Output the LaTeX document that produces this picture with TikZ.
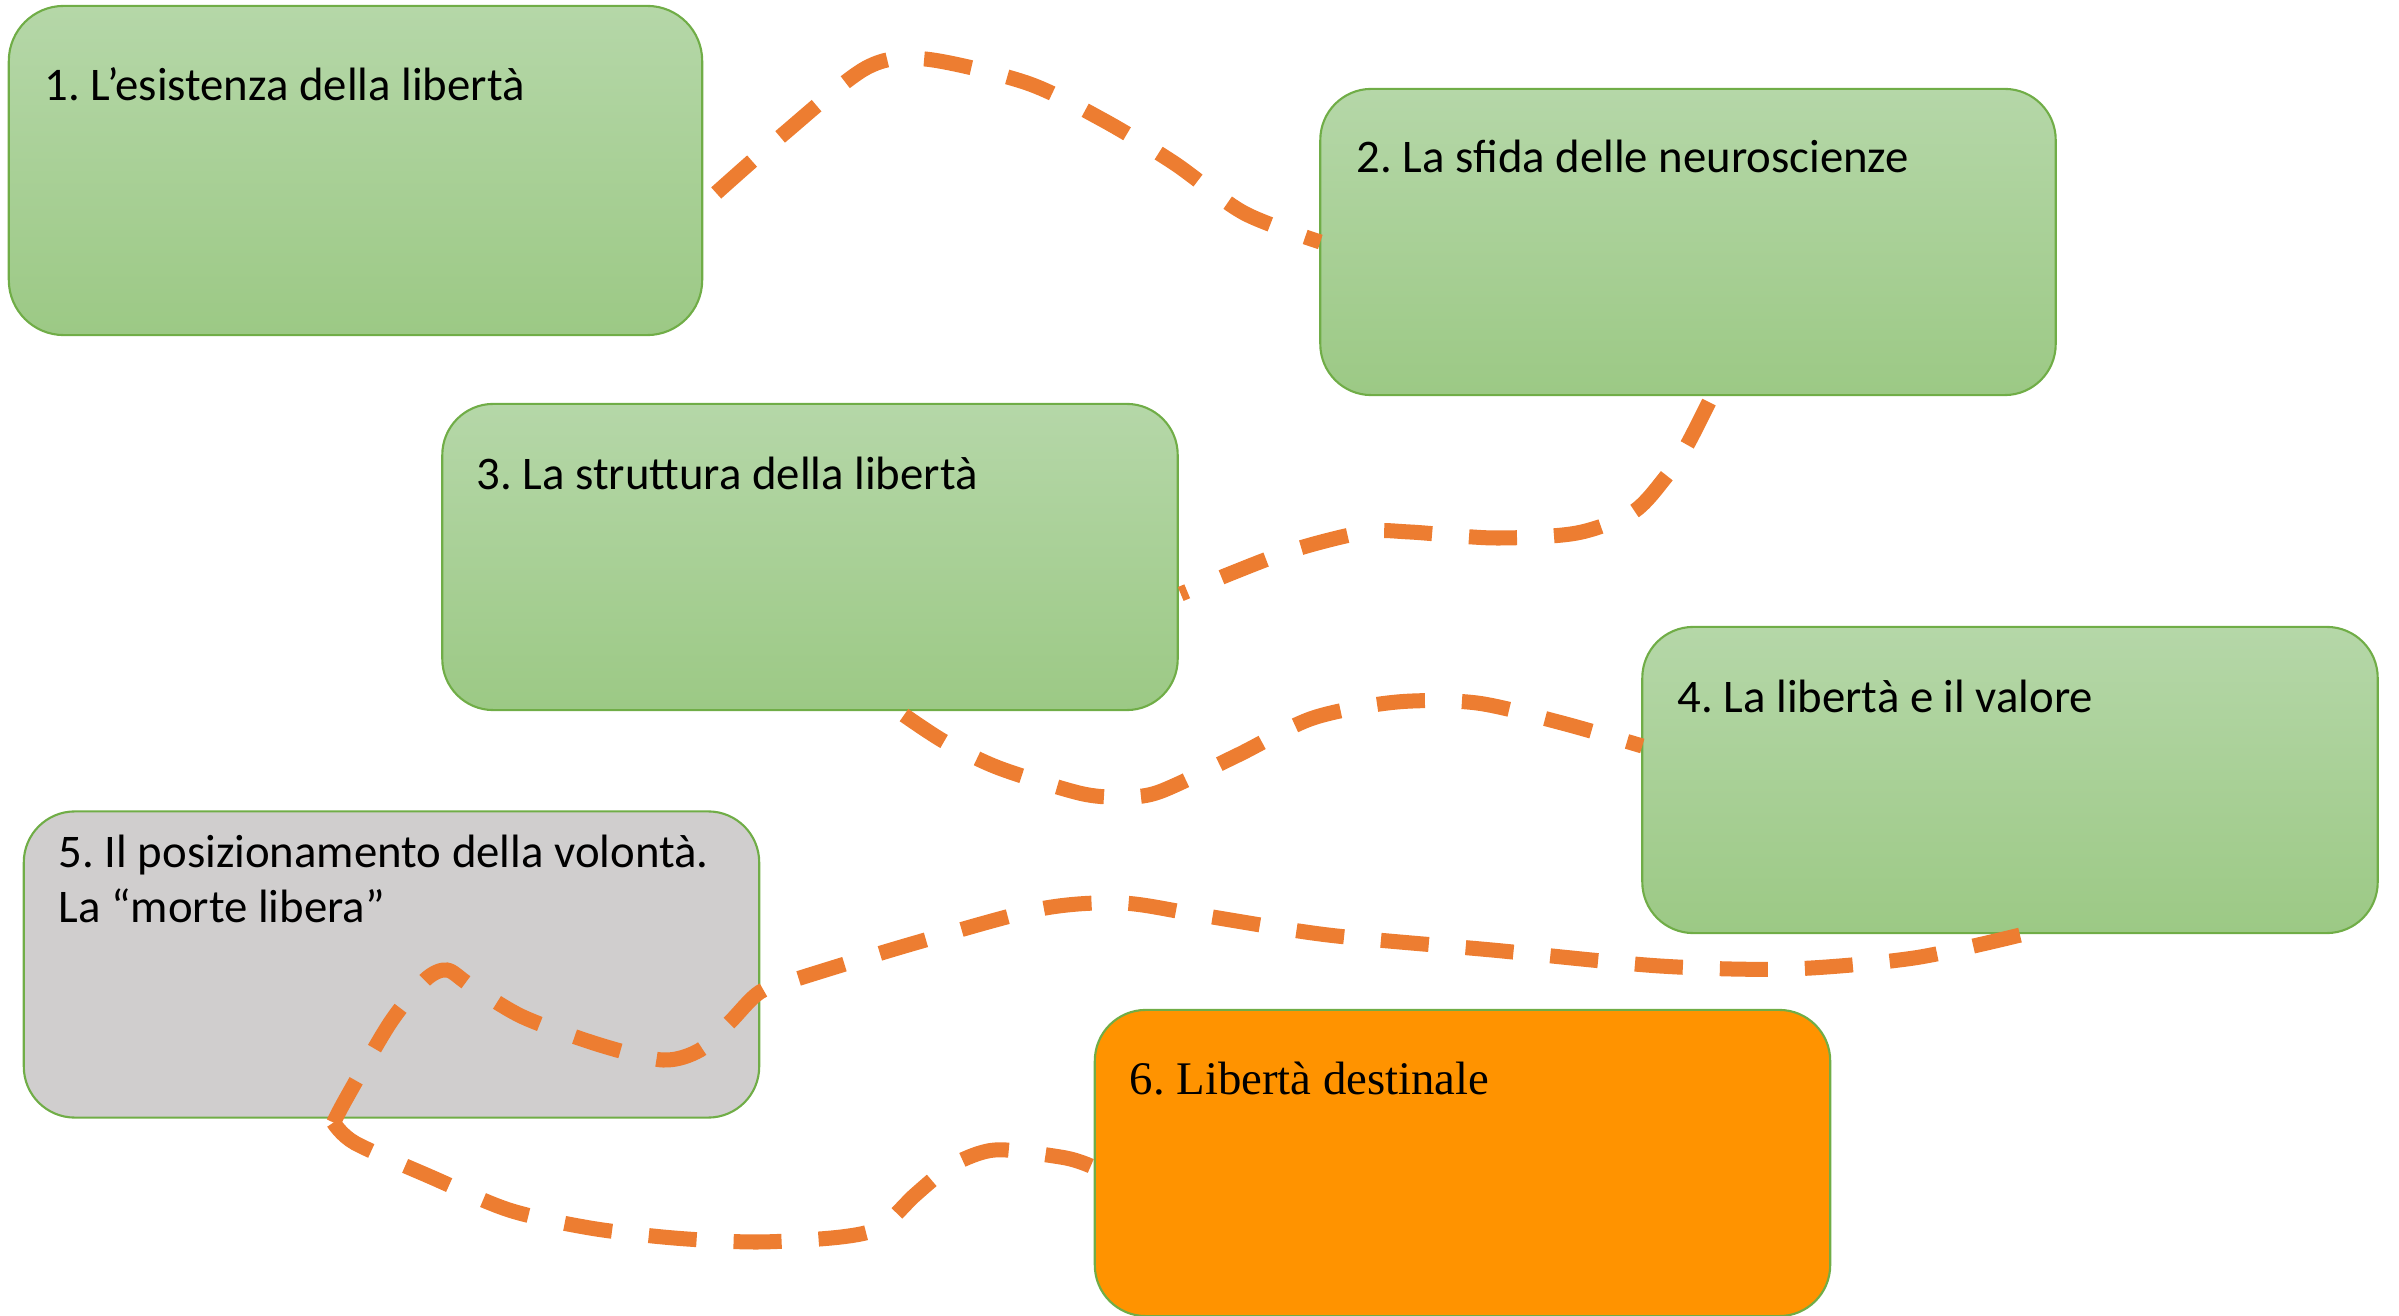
\documentclass[tikz,border=0pt]{standalone}
\usepackage{fontspec}
\setmainfont{Carlito}
\newfontfamily\timesf{Liberation Serif}
\usetikzlibrary{calc}
\definecolor{gtop}{HTML}{B5D7A8}
\definecolor{gbot}{HTML}{9CC985}
\definecolor{gline}{HTML}{70AD47}
\definecolor{graybox}{HTML}{D0CECE}
\definecolor{orangebox}{HTML}{FF9300}
\definecolor{conn}{HTML}{ED7D31}
\frenchspacing
\begin{document}
\begin{tikzpicture}[x=0.01cm,y=-0.01cm,
  box/.style={rounded corners=0.51cm, draw=gline, line width=0.6pt, outer sep=0pt, inner sep=0pt,
              minimum width=7.35cm, minimum height=3.06cm},
  greenbox/.style={box, top color=gtop, bottom color=gbot},
  greybox/.style={box, fill=graybox},
  orbox/.style={box, fill=orangebox},
  lbl/.style={anchor=base west, inner sep=0pt, font=\fontsize{13.3pt}{16pt}\selectfont},
  link/.style={draw=conn, line width=0.15cm, dash pattern=on 0.48cm off 0.37cm}]
\useasboundingbox (0,0) rectangle (2399,1316);
% boxes
\node[greenbox, minimum width=6.93cm, minimum height=3.29cm, rounded corners=0.55cm] (b1) at (355.5,170.5) {};
\node[greenbox] (b2) at (1688,242) {};
\node[greenbox] (b3) at (810,557) {};
\node[greenbox] (b4) at (2010,780) {};
\node[greybox] (b5) at (391.5,964.5) {};
\node[orbox] (b6) at (1462.5,1163) {};
% labels
\node[lbl] (t1) at (44,101) {1. L’esistenza della libertà};
\node[lbl] (t2) at (1356,173) {2. La sfida delle neuroscienze};
\node[lbl] (t3) at (476,490) {3. La struttura della libertà};
\node[lbl] (t4) at (1677,713) {4. La libertà e il valore};
\node[lbl] (t5a) at (58,868) {5. Il posizionamento della volontà.};
\node[lbl] (t5b) at (58,923) {La “morte libera”};
\node[lbl, font=\fontsize{13.3pt}{16pt}\selectfont\timesf] (t6) at (1129,1094) {6. Libertà destinale};
% connectors
\coordinate (j) at ($(b5.south)+(-58,5)$);
\draw[link] plot[smooth] coordinates {($(b1.east)+(14,22.5)$) (780,137) (866,68) (925,59) (1027,83) (1103,120) (1174,163) (1244,213) (b2.west)};
\draw[link] plot[smooth] coordinates {($(b2.south)+(21,7)$) (1686,447) (1665,478) (1633,512) (1577,533) (1495,538) (1410,532) (1365,532) (1284,553) ($(b3.east)+(3,37)$)};
\draw[link] plot[smooth] coordinates {($(b3.south)+(94,5)$) (945,742) (999,768) (1079,793) (1119,797) (1159,792) (1238,755) (1313,718) (1397,702) (1477,703) (1562,723) ($(b4.west)+(0,-34)$)};
\draw[link] plot[smooth] coordinates {($(b4.south)+(10,2)$) (1914,958) (1790,969) (1660,966) (1492,950) (1328,935) (1200,915) (1122,903) (1040,909) (915,943) (800,978) (760,992) (730,1022) (700,1050) (663,1060) (600,1045) (523,1017) (470,985) (447,970) (425,980) (390,1023) (347,1097) (j)};
\draw[link] plot[smooth] coordinates {(j) (355,1143) (431,1177) (509,1210) (590,1228) (674,1238) (758,1242) (841,1237) (881,1227) (915,1195) (949,1167) (980,1153) (1006,1150) (1066,1158) ($(b6.west)+(-4,3)$)};
\end{tikzpicture}
\end{document}
